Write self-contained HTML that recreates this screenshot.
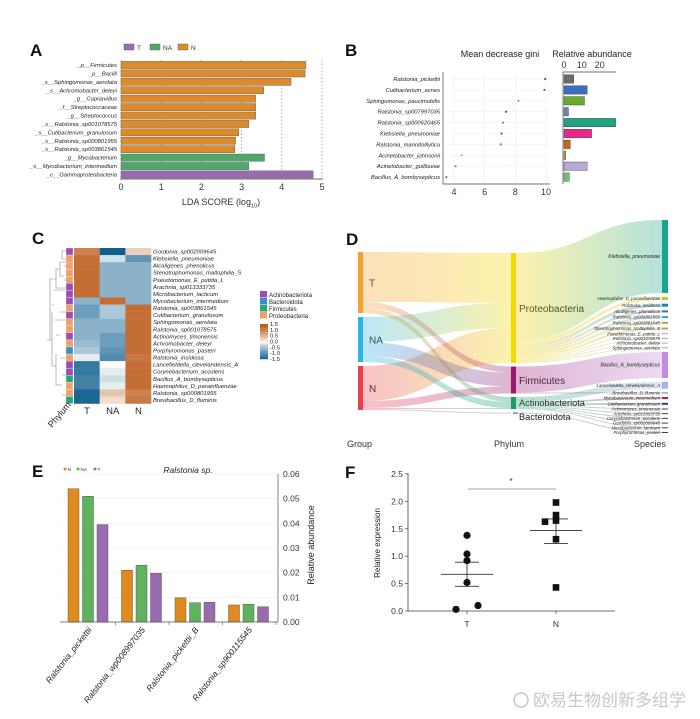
<!DOCTYPE html>
<html><head><meta charset="utf-8"><style>
html,body{margin:0;padding:0;background:#fff;}
svg{display:block;font-family:"Liberation Sans","Noto Sans CJK SC",sans-serif;}
.it{font-style:italic;}
</style></head><body>
<svg id="fig" width="700" height="719" viewBox="0 0 700 719" xmlns="http://www.w3.org/2000/svg">
<defs></defs>
<rect width="700" height="719" fill="#fff"/>
<g font-weight="bold" font-size="17" fill="#111">
<text x="30" y="56">A</text>
<text x="345" y="56">B</text>
<text x="32" y="244">C</text>
<text x="346" y="245">D</text>
<text x="32" y="477">E</text>
<text x="345" y="478">F</text>
</g>
<g id="pa"></g>
<g id="pb"></g>
<g id="pc"></g>
<g id="pd"></g>
<g id="pe"></g>
<g id="pf"></g>
<text x="533" y="706" font-size="17" fill="#c8c8c8">欧易生物创新多组学</text>
<circle cx="521" cy="700" r="7" fill="none" stroke="#c8c8c8" stroke-width="1.5"/>
</svg>
<script>
const NS="http://www.w3.org/2000/svg";
function mk(tag,attrs,parent){const e=document.createElementNS(NS,tag);for(const k in attrs)e.setAttribute(k,attrs[k]);parent.appendChild(e);return e;}
function tx(str,attrs,parent){const e=mk('text',attrs,parent);e.textContent=str;return e;}

// ---------- Panel A data ----------
const ldaLabels=["_p__Firmicutes","_p__Bacilli","_s__Sphingomonas_aerolata","_s__Achromobacter_deleyi","_g__Cupriavidus","_f__Streptococcaceae","_g__Streptococcus","_s__Ralstonia_sp001078575","_s__Cutibacterium_granulosum","_s__Ralstonia_sp000801955","_s__Ralstonia_sp003861545","_g__Mycobacterium","_s__Mycobacterium_intermedium","_c__Gammaproteobacteria"];
const ldaValues=[4.6,4.58,4.23,3.55,3.35,3.35,3.35,3.18,2.93,2.85,2.83,3.57,3.18,4.78];
const ldaGroups=["N","N","N","N","N","N","N","N","N","N","N","NA","NA","T"];
const ldaTicks=[0,1,2,3,4,5];
// ---------- Panel B data ----------
const rfLabels=["Ralstonia_pickettii","Cutibacterium_acnes","Sphingomonas_paucimobilis","Ralstonia_sp007997035","Ralstonia_sp000620465","Klebsiella_pneumoniae","Ralstonia_mannitolilytica","Acinetobacter_johnsonii","Acinetobacter_guillouiae","Bacillus_A_bombysepticus"];
const rfGini=[9.95,9.9,8.2,7.4,7.2,7.1,7.05,4.5,4.1,3.5];
const rfAbund=[5.5,13,11.5,2.5,29,15.5,3.5,1,13,3];
const rfGiniTicks=[4,6,8,10];
const rfAbundTicks=[0,10,20];
// ---------- Panel C data ----------
const hmRows=["Gordonia_sp002009645","Klebsiella_pneumoniae","Alcaligenes_phenolicus","Stenotrophomonas_maltophilia_S","Pseudomonas_E_putida_L","Arachnia_sp013333735","Microbacterium_lacticum","Mycobacterium_intermedium","Ralstonia_sp003861545","Cutibacterium_granulosum","Sphingomonas_aerolata","Ralstonia_sp001078575","Actinomyces_timonensis","Achromobacter_deleyi","Porphyromonas_pasteri","Ralstonia_insidiosa","Lancefieldella_clevelandensis_A","Corynebacterium_accolens","Bacillus_A_bombysepticus","Haemophilus_D_parainfluenzae","Ralstonia_sp000801955","Brevibacillus_D_fluminis"];
const hmCols=["T","NA","N"];
const hmT=[1.0,1.2,1.2,1.2,1.2,1.2,1.2,-0.6,-0.8,-0.8,-0.6,-0.6,-0.6,-0.5,-0.4,-0.1,-1.2,-1.2,-1.1,-1.1,-1.4,-1.4];
const hmNA=[-1.5,-0.2,-0.6,-0.6,-0.6,-0.6,-0.6,1.2,-0.4,-0.4,-0.6,-0.6,-0.8,-0.8,-0.9,-1.0,0.0,-0.1,-0.2,-0.1,0.4,0.2];
const hmN=[0.3,-0.9,-0.6,-0.6,-0.6,-0.6,-0.6,-0.6,1.2,1.2,1.2,1.2,1.2,1.2,1.2,1.1,1.2,1.2,1.2,1.2,1.0,1.1];
const hmPhylum=["A","P","P","P","P","A","A","A","P","A","P","P","A","P","B","P","A","A","F","P","P","F"];
const phylumNames=["Actinobacteriota","Bacteroidota","Firmicutes","Proteobacteria"];
const cbTicks=[1.5,1.0,0.5,0.0,-0.5,-1.0,-1.5];
// ---------- Panel D data ----------
const sGroups=["T","NA","N"];
const sPhyla=["Proteobacteria","Firmicutes","Actinobacteriota","Bacteroidota"];
const gpProteo=[50,25,35];
const gpFirm=[6,14,7];
const gpActino=[5,6,1];
const gpBactero=[0,0,1];
const species=["Klebsiella_pneumoniae","Haemophilus_D_parainfluenzae","Ralstonia_insidiosa","Alcaligenes_phenolicus","Ralstonia_sp000801955","Ralstonia_sp003861545","Stenotrophomonas_maltophilia_S","Pseudomonas_E_putida_L","Ralstonia_sp001078575","Achromobacter_deleyi","Sphingomonas_aerolata","Bacillus_A_bombysepticus","Lancefieldella_clevelandensis_A","Brevibacillus_D_fluminis","Mycobacterium_intermedium","Cutibacterium_granulosum","Actinomyces_timonensis","Arachnia_sp013333735","Corynebacterium_accolens","Gordonia_sp002009645","Microbacterium_lacticum","Porphyromonas_pasteri"];
const speciesValues=[73,3,3,2,2,2,2,1,1,1,1,26,7,1,2,2,1,1,1,1,1,1];
const speciesPhylum=[0,0,0,0,0,0,0,0,0,0,0,1,2,1,2,2,2,2,2,2,2,3];
// ---------- Panel E data ----------
const eCats=["Ralstonia_pickettii","Ralstonia_wp008997035","Ralstonia_pickettii_B","Ralstonia_sp900115545"];
const eN=[0.054,0.021,0.0098,0.0069];
const eNA=[0.051,0.023,0.0078,0.0072];
const eT=[0.0395,0.0198,0.008,0.0062];
const eTicks=[0,0.01,0.02,0.03,0.04,0.05,0.06];
// ---------- Panel F data ----------
const fTvals=[1.38,1.04,0.92,0.52,0.03,0.10];
const fTjit=[0,0,0,0,-1,1];
const fNvals=[1.98,1.75,1.65,1.63,1.31,0.43];
const fNjit=[0,0,0,-1,0,0];
const fTsum=[0.67,0.45,0.89];
const fNsum=[1.47,1.23,1.68];
const fTicks=[0,0.5,1.0,1.5,2.0,2.5];

// ===== Panel A =====
(function(){
const g=document.getElementById('pa');
const col={T:"#9b6bb0",NA:"#4fa86a",N:"#dd8a2a"};
const xA=v=>121+v*40.2, yA=i=>65+i*8.42;
ldaTicks.forEach(t=>{const l=mk('line',{x1:xA(t),x2:xA(t),y1:60,y2:179,stroke:"#777","stroke-dasharray":"1.5,2","stroke-width":0.6},g);


const tk=tx(String(t),{x:xA(t),y:190,"font-size":9,"text-anchor":"middle",fill:"#333"},g);

});
ldaValues.forEach((v,i)=>{const r=mk('rect',{x:xA(0),y:yA(i)-3.6,width:xA(v)-xA(0),height:7.2,fill:col[ldaGroups[i]],stroke:"#555","stroke-width":0.4},g);


const t=tx(ldaLabels[i],{x:117,y:yA(i)+2,"font-size":5.8,"text-anchor":"end",class:"it",fill:"#222"},g);

});
const ax=mk('line',{x1:120,x2:323,y1:179,y2:179,stroke:"#333","stroke-width":0.8},g);


const tt=mk('text',{x:221,y:205,"font-size":9,fill:"#333","text-anchor":"middle"},g);
tt.innerHTML='LDA SCORE (log<tspan font-size="5.5" dy="2.5">10</tspan><tspan dy="-2.5">)</tspan>';


[["T",124],["NA",150],["N",178]].forEach(([k,x])=>{const r=mk('rect',{x:x,y:44,width:10,height:6,fill:col[k],stroke:"#555","stroke-width":0.4},g);


const t=tx(k,{x:x+13,y:50,"font-size":6.5,fill:"#333"},g);

});
})();

// ===== Panel B =====
(function(){
const g=document.getElementById('pb');
const dotCol=["#555","#3d6fbf","#8aa82e","#555","#2bb3a3","#d8286a","#c8651b","#d9a04a","#888","#777"];
const barCol=["#6b6b6b","#3d6fbf","#6aab2e","#7b7fb5","#21a383","#e8288a","#c8651b","#d9a04a","#b8a8d8","#6fc07a"];
const xG=v=>454+(v-4)*15.33, yB=i=>79+i*10.9, xR=v=>564+v*1.78;
rfGiniTicks.forEach(t=>{const l=mk('line',{x1:xG(t),x2:xG(t),y1:72,y2:184,stroke:"#eee","stroke-width":0.6},g);


const k=tx(String(t),{x:xG(t),y:195,"font-size":9,"text-anchor":"middle",fill:"#333"},g);

});
rfLabels.forEach((lb,i)=>{const hl=mk('line',{x1:444,x2:550,y1:yB(i),y2:yB(i),stroke:"#f0f0f0","stroke-width":0.6},g);


const t=tx(lb,{x:440,y:yB(i)+2,"font-size":5.8,"text-anchor":"end",class:"it",fill:"#222"},g);


const c=mk('circle',{cx:xG(rfGini[i]),cy:yB(i),r:1.1,fill:dotCol[i]},g);


const r=mk('rect',{x:xR(0),y:yB(i)-4.2,width:xR(rfAbund[i])-xR(0),height:8.4,fill:barCol[i],stroke:"#333","stroke-width":0.4},g);

});
const a1=mk('path',{d:"M443 72 V184 H550",fill:"none",stroke:"#444","stroke-width":0.7},g);


const a2=mk('path',{d:"M563 184 V72 H616",fill:"none",stroke:"#444","stroke-width":0.7},g);


rfAbundTicks.forEach(t=>{const k=tx(String(t),{x:xR(t),y:68,"font-size":9,"text-anchor":"middle",fill:"#333"},g);

});
const t1=tx("Mean decrease gini",{x:500,y:57,"font-size":9,"text-anchor":"middle",fill:"#222"},g);


const t2=tx("Relative abundance",{x:592,y:57,"font-size":9,"text-anchor":"middle",fill:"#222"},g);


})();

// ===== Panel C =====
(function(){
const g=document.getElementById('pc');
const phCol={A:"#9b4db5",B:"#3a8fc8",F:"#2aa37a",P:"#f0a06a"};
function cmap(v){v=Math.max(-1.5,Math.min(1.5,v));let a=Math.abs(v)/1.5;const e=v>=0?[184,82,14]:[14,94,142];
const c=[0,1,2].map(i=>Math.round(255+(e[i]-255)*Math.pow(a,0.8)));return `rgb(${c})`;}
const rowY=i=>248+i*7.07, colX=j=>74+j*25.7;
const vals=[hmT,hmNA,hmN];
hmRows.forEach((nm,i)=>{vals.forEach((arr,j)=>{const r=mk('rect',{x:colX(j),y:rowY(i),width:25.9,height:7.3,fill:cmap(arr[i])},g);

});
const p=mk('rect',{x:66,y:rowY(i),width:7,height:7.07,fill:phCol[hmPhylum[i]],stroke:"#fff","stroke-width":0.3},g);


const t=tx(nm,{x:153,y:rowY(i)+5.5,"font-size":5.9,class:"it",fill:"#222"},g);

});
const dd="M66 251H62V259H66M66 262H60V276H64M64 266H66M64 280H66M60 269H56V288H66M56 279H50V340H52M52 305H54M54 290H66M54 320H66M52 312V366H56M56 335H60M60 312H66M60 358H66M56 354V385H62M62 375H66M62 395H66M50 340H47";
const d=mk('path',{d:dd,fill:"none",stroke:"#888","stroke-width":0.6},g);


hmCols.forEach((c,j)=>{const t=tx(c,{x:colX(j)+13,y:414,"font-size":9.5,"text-anchor":"middle",fill:"#222"},g);

});
const ph=tx("Phylum",{x:0,y:0,"font-size":9,fill:"#222",transform:"translate(52,428) rotate(-50)"},g);


["A","B","F","P"].forEach((k,i)=>{const r=mk('rect',{x:260,y:291+i*7,width:7,height:6.5,fill:phCol[k]},g);


const t=tx(phylumNames[i],{x:269,y:297+i*7,"font-size":6,fill:"#222"},g);

});
for(let k=0;k<30;k++){const v=1.5-k*0.1;const r=mk('rect',{x:260,y:324+k*1.17,width:8,height:1.3,fill:cmap(v)},g);

}
cbTicks.forEach(t=>{const y=324+(1.5-t)/3*35;const k=tx(t.toFixed(1),{x:270,y:y+2,"font-size":5.8,fill:"#222"},g);

});
})();

// ===== Panel D =====
(function(){
const g=document.getElementById('pd');const defs=document.querySelector('defs');
const gCol=["#f5a030","#29b6e6","#e8404f"], pCol=["#f4d800","#9a1a6e","#1a9a6a","#5b6fb0"];
const sColList=["#1aa58f","#d8c020","#2080c0","#6060b0","#40a0d0","#c0a040","#b0a060","#aaa","#aaa","#aaa","#aaa","#c58be0","#a8b4e8","#777","#a02040","#304080","#444","#444","#444","#444","#444","#444"];
const gp=[gpProteo,gpFirm,gpActino,gpBactero];
const gx=358,gw=5,px=511,pw=5,sx=662,sw=6;
let gy=[],y=252;
sGroups.forEach((s,i)=>{const h=gp.reduce((a,arr)=>a+arr[i],0);gy.push(y);const r=mk('rect',{x:gx,y:y,width:gw,height:h,fill:gCol[i]},g);


const t=tx(s,{x:gx+11,y:y+h/2+4,"font-size":10,fill:"#222"},g);


y+=h+4;});
let py=[],ph=[];y=253;
sPhyla.forEach((p,k)=>{const h=gp[k].reduce((a,b)=>a+b,0);py.push(y);ph.push(h);y+=h+3.5;});
function link(x1,a1,b1,x2,a2,b2,c1,c2,nm,id){const gr=mk('linearGradient',{id:id,x1:"0",x2:"1",y1:"0",y2:"0"},defs);
mk('stop',{offset:"0","stop-color":c1},gr);mk('stop',{offset:"1","stop-color":c2},gr);
const m=(x1+x2)/2;const p=mk('path',{d:`M${x1} ${a1}C${m} ${a1} ${m} ${a2} ${x2} ${a2}L${x2} ${b2}C${m} ${b2} ${m} ${b1} ${x1} ${b1}Z`,fill:`url(#${id})`,"fill-opacity":0.32},g);

}
const gOff=gy.slice(), pOff=py.slice();let n=0;
for(let k=0;k<4;k++)for(let i=0;i<3;i++){const v=gp[k][i];if(!v)continue;
link(gx+gw,gOff[i],gOff[i]+v,px,pOff[k],pOff[k]+v,gCol[i],pCol[k],'d-group-phylum-link','lg'+(n++));gOff[i]+=v;pOff[k]+=v;}
const labDy=[4,4,3,7];
sPhyla.forEach((p,k)=>{const h=Math.max(ph[k],1.2);const r=mk('rect',{x:k==3?px+2:px,y:py[k],width:pw,height:h,fill:pCol[k]},g);


const t=tx(p,{x:px+8,y:py[k]+Math.min(h/2,60)+labDy[k],"font-size":k<2?10:9.2,fill:"#222"},g);

});
const sumChild=[0,0,0,0];speciesValues.forEach((v,i)=>sumChild[speciesPhylum[i]]+=v);
const srcOff=py.slice();y=220;
species.forEach((s,i)=>{const v=speciesValues[i],k=speciesPhylum[i];const sc=ph[k]/sumChild[k];const w=v*sc;
link(px+pw,srcOff[k],srcOff[k]+w,sx,y,y+v,pCol[k],sColList[i],'d-phylum-species-link','ls'+i);srcOff[k]+=w;
const r=mk('rect',{x:sx,y:y,width:sw,height:Math.max(v,1),fill:sColList[i]},g);


const t=tx(s,{x:sx-2,y:v>10?y+v/2+1.5:y+v/2+1.6,"font-size":v>10?5:4.4,"text-anchor":"end",class:"it",fill:"#222"},g);


y+=v+(i==0?4:3.7);});
[["Group",347],["Phylum",494],["Species",634]].forEach(([s,x])=>{const t=tx(s,{x:x,y:447,"font-size":9,fill:"#333"},g);

});
})();

// ===== Panel E =====
(function(){
const g=document.getElementById('pe');
const cN="#e08a1e",cNA="#5fb35f",cT="#9b6bb0";
const yE=v=>622-v/0.06*148, cx=i=>62+i*53.5;
eTicks.forEach(t=>{const l=mk('line',{x1:60,x2:278,y1:yE(t),y2:yE(t),stroke:"#eee","stroke-width":0.6},g);


const k=tx(t.toFixed(2),{x:283,y:yE(t)+3,"font-size":8.5,fill:"#333"},g);

});
const series=[[eN,cN,6],[eNA,cNA,20.5],[eT,cT,35]];
eCats.forEach((c,i)=>{series.forEach(([arr,col,off])=>{const r=mk('rect',{x:cx(i)+off,y:yE(arr[i]),width:11,height:yE(0)-yE(arr[i]),fill:col,stroke:"#444","stroke-width":0.4},g);

});
const tk=mk('line',{x1:cx(i+1),x2:cx(i+1),y1:622,y2:625,stroke:"#555","stroke-width":0.6},g);


const t=tx(c,{x:0,y:0,"font-size":8.5,"text-anchor":"end",class:"it",fill:"#222",transform:`translate(${cx(i)+30},630) rotate(-52)`},g);

});
const ax=mk('path',{d:"M60 622H278V474",fill:"none",stroke:"#555","stroke-width":0.7},g);


const yt=tx("Relative  abundance",{x:0,y:0,"font-size":9,"text-anchor":"middle",fill:"#222",transform:"translate(314,545) rotate(-90)"},g);


const ti=tx("Ralstonia sp.",{x:188,y:473,"font-size":8.5,"text-anchor":"middle",class:"it",fill:"#222"},g);


[["N",cN,65],["NA",cNA,78],["T",cT,95]].forEach(([s,c,x])=>{const d=mk('circle',{cx:x,cy:469,r:1.5,fill:c},g);


const t=tx(s,{x:x+2.5,y:471,"font-size":4.8,fill:"#333"},g);

});
})();

// ===== Panel F =====
(function(){
const g=document.getElementById('pf');
const yF=v=>611-v*54.8, xT=467, xN=556;
fTicks.forEach(t=>{const k=tx(t.toFixed(1),{x:403,y:yF(t)+3,"font-size":8.5,"text-anchor":"end",fill:"#333"},g);


const m=mk('line',{x1:405,x2:408,y1:yF(t),y2:yF(t),stroke:"#444","stroke-width":0.7},g);

});
const ax=mk('path',{d:"M408 473V611H615",fill:"none",stroke:"#444","stroke-width":0.8},g);


function summ(x,s){const[m,lo,hi]=s;[[m,26],[lo,12],[hi,12]].forEach(([v,hw])=>{const l=mk('line',{x1:x-hw,x2:x+hw,y1:yF(v),y2:yF(v),stroke:"#333","stroke-width":0.9},g);

});
const v=mk('line',{x1:x,x2:x,y1:yF(lo),y2:yF(hi),stroke:"#333","stroke-width":0.9},g);

}
summ(xT,fTsum);summ(xN,fNsum);
fTvals.forEach((v,i)=>{const c=mk('circle',{cx:xT+fTjit[i]*11,cy:yF(v),r:3.6,fill:"#111"},g);

});
fNvals.forEach((v,i)=>{const r=mk('rect',{x:xN+fNjit[i]*11-3.3,y:yF(v)-3.3,width:6.6,height:6.6,fill:"#111"},g);

});
const sb=mk('line',{x1:468,x2:556,y1:489,y2:489,stroke:"#888","stroke-width":0.8},g);


const st=tx("*",{x:511,y:484,"font-size":8,"text-anchor":"middle",fill:"#333"},g);


[["T",xT],["N",xN]].forEach(([s,x])=>{const t=tx(s,{x:x,y:627,"font-size":8.5,"text-anchor":"middle",fill:"#333"},g);


const m=mk('line',{x1:x,x2:x,y1:611,y2:614,stroke:"#444","stroke-width":0.7},g);

});
const yt=tx("Relative expression",{x:0,y:0,"font-size":8,"text-anchor":"middle",fill:"#222",transform:"translate(380,543) rotate(-90)"},g);


})();
</script>
</body></html>
